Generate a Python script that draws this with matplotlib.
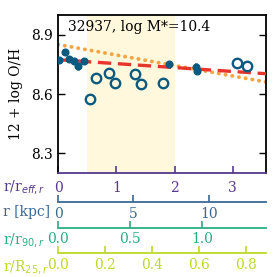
import numpy as np
import matplotlib
matplotlib.use("Agg")
import matplotlib.pyplot as plt

plt.rcParams['font.family'] = 'DejaVu Serif'
plt.rcParams['font.size'] = 10

# --- data ---
spax_x = [0.02, 0.12, 0.19, 0.28, 0.35, 0.44, 1.91, 2.37, 2.39]
spax_y = [8.770, 8.812, 8.778, 8.768, 8.740, 8.765, 8.750, 8.738, 8.717]
spax_err = [0.008, 0.008, 0.008, 0.008, 0.018, 0.015, 0.008, 0.018, 0.012]

hii_x = [0.55, 0.65, 0.88, 0.98, 1.32, 1.42, 1.81, 3.08, 3.24]
hii_y = [8.574, 8.683, 8.708, 8.657, 8.700, 8.653, 8.658, 8.755, 8.742]

fit_x = [0.0, 3.57]
fit_red = [8.774, 8.703]
fit_orange = [8.851, 8.661]

r_eff_kpc = 3.86
r90_reff = 2.47
r25_reff = 4.03

c_pt = '#0b5a80'
c_eff = '#55398c'
c_kpc = '#3a6896'
c_r90 = '#2aae84'
c_r25 = '#bcd92a'

fig = plt.figure(figsize=(2.77, 2.77), dpi=100)
ax = fig.add_axes([0.2094, 0.3755, 0.751, 0.570])

ax.axvspan(0.5, 2.0, color='#fff8dc', zorder=0, lw=0)
ax.plot(fit_x, fit_orange, ls=(0, (0.05, 1.7)), color='#f7a445', lw=2.8,
        dash_capstyle='round', zorder=2)
ax.plot(fit_x, fit_red, ls=(0, (4, 2.0)), color='#e8352b', lw=2.4, zorder=3)
ax.errorbar(spax_x, spax_y, yerr=spax_err, fmt='o', color=c_pt, ms=4.8,
            elinewidth=2, capsize=0, zorder=4)
ax.plot(hii_x, hii_y, 'o', mfc='none', mec=c_pt, ms=6.8, mew=1.7, zorder=4)

ax.set_xlim(0, 3.57)
ax.set_ylim(8.2, 9.0)
ax.set_yticks([8.3, 8.6, 8.9])
ax.set_xticks([0, 1, 2, 3])
ax.set_ylabel('12 + log O/H', labelpad=6)
ax.tick_params(axis='y', direction='in', length=5, width=1, right=True)
ax.tick_params(axis='x', direction='in', length=5, width=1.2, colors=c_eff,
               pad=6)
ax.spines['bottom'].set_color(c_eff)
ax.spines['bottom'].set_linewidth(1.3)
for s in ['top', 'left', 'right']:
    ax.spines[s].set_linewidth(1.3)

ax.text(0.048, 0.924, '32937, log M*=10.4', transform=ax.transAxes,
        ha='left', va='center')

sec_specs = [
    (-0.182, (lambda x: x * r_eff_kpc, lambda x: x / r_eff_kpc), [0, 5, 10], c_kpc),
    (-0.346, (lambda x: x / r90_reff, lambda x: x * r90_reff), [0.0, 0.5, 1.0], c_r90),
    (-0.508, (lambda x: x / r25_reff, lambda x: x * r25_reff),
     [0.0, 0.2, 0.4, 0.6, 0.8], c_r25),
]
for loc, funcs, ticks, col in sec_specs:
    sa = ax.secondary_xaxis(loc, functions=funcs)
    sa.set_xticks(ticks)
    sa.tick_params(direction='in', length=5, width=1.2, colors=col, pad=3.5)
    sa.spines['bottom'].set_color(col)
    sa.spines['bottom'].set_linewidth(1.3)

labels = [('r/r$_{eff,r}$', c_eff, 187), ('r [kpc]', c_kpc, 212),
          ('r/r$_{90,r}$', c_r90, 240), ('r/R$_{25,r}$', c_r25, 267)]
for txt, col, ypix in labels:
    fig.text(3 / 277, 1 - ypix / 277, txt, color=col, ha='left', va='center')

fig.savefig('out.png', dpi=100)
